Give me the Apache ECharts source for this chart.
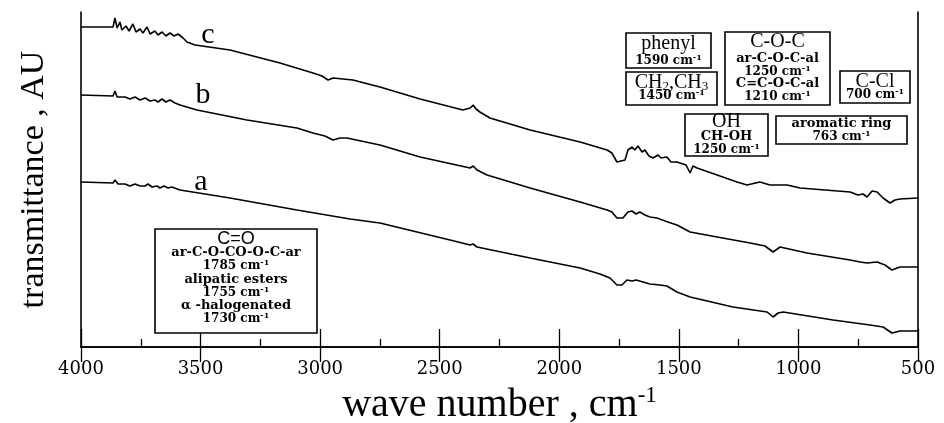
<!DOCTYPE html>
<html>
<head>
<meta charset="utf-8">
<script src="https://cdn.jsdelivr.net/npm/echarts@6/dist/echarts.min.js"></script>
<style>
  html, body { margin: 0; padding: 0; background: #fff; }
  #chart { width: 944px; height: 423px; }
</style>
</head>
<body>
<div id="chart"></div>
<script>
// IR spectra of three samples (a, b, c), transmittance in arbitrary units
const xTicks = [4000, 3500, 3000, 2500, 2000, 1500, 1000, 500];

const waveC = [4000, 3866, 3858, 3849, 3837, 3829, 3812, 3799, 3783, 3770, 3753, 3741, 3724, 3711, 3691, 3678, 3661, 3645, 3628, 3611, 3594, 3573, 3557, 3523, 3377, 3168, 3030, 2992, 2967, 2946, 2863, 2750, 2582, 2403, 2373, 2360, 2348, 2332, 2290, 2122, 1913, 1800, 1780, 1759, 1725, 1713, 1696, 1684, 1671, 1654, 1642, 1625, 1608, 1587, 1575, 1550, 1533, 1508, 1470, 1453, 1441, 1424, 1340, 1257, 1215, 1161, 1119, 1048, 993, 784, 751, 730, 713, 692, 671, 646, 617, 596, 575, 500];
const transC = [320, 320, 329, 319, 325, 317, 321, 316, 323, 315, 318, 314, 320, 313, 316, 312, 315, 311, 314, 311, 313, 309, 305, 302, 297, 284, 274, 271, 267, 269, 267, 260, 248, 237, 239, 242, 238, 235, 229, 217, 205, 197, 194, 185, 187, 197, 200, 197, 201, 195, 197, 191, 189, 192, 189, 190, 185, 185, 182, 174, 181, 179, 172, 165, 162, 165, 162, 162, 159, 155, 152, 153, 150, 156, 155, 149, 144, 147, 148, 149];

const waveB = [4000, 3866, 3858, 3849, 3816, 3795, 3774, 3753, 3732, 3711, 3691, 3678, 3661, 3645, 3628, 3607, 3586, 3515, 3306, 3097, 3030, 2980, 2946, 2917, 2888, 2750, 2582, 2373, 2360, 2344, 2302, 2122, 1913, 1800, 1780, 1759, 1734, 1713, 1696, 1679, 1663, 1642, 1621, 1592, 1546, 1508, 1453, 1340, 1202, 1140, 1106, 1077, 964, 784, 742, 713, 671, 638, 609, 575, 500];
const transB = [252, 251, 256, 250, 250, 248, 250, 247, 249, 246, 247, 245, 248, 245, 247, 244, 242, 237, 227, 219, 214, 211, 207, 209, 209, 202, 190, 179, 181, 177, 172, 159, 145, 137, 135, 129, 129, 135, 136, 133, 135, 132, 130, 129, 125, 122, 115, 110, 104, 101, 95, 100, 94, 87, 85, 84, 85, 82, 77, 80, 80];

const waveA = [4000, 3866, 3858, 3845, 3816, 3795, 3774, 3753, 3732, 3720, 3703, 3682, 3670, 3653, 3636, 3620, 3586, 3377, 3097, 2875, 2750, 2457, 2373, 2360, 2344, 2122, 1913, 1830, 1788, 1759, 1738, 1717, 1696, 1679, 1650, 1621, 1579, 1550, 1508, 1453, 1274, 1131, 1106, 1085, 1064, 855, 701, 646, 609, 575, 500];
const transA = [165, 164, 167, 163, 163, 161, 163, 161, 161, 163, 160, 161, 159, 161, 159, 160, 157, 149, 137, 128, 124, 107, 102, 103, 100, 89, 79, 73, 69, 62, 62, 67, 66, 67, 65, 63, 62, 61, 55, 50, 40, 35, 30, 34, 35, 27, 22, 20, 14, 16, 16];

const pair = (w, t) => w.map((v, i) => [v, t[i]]);

const SERIF = 'Liberation Serif';
const WIDE = 'DejaVu Serif';

const rich = {
  big: { fontFamily: SERIF, fontSize: 20, lineHeight: 20 },
  bsub: { fontFamily: SERIF, fontSize: 13, lineHeight: 20, verticalAlign: 'bottom' },
  num: { fontFamily: WIDE, fontSize: 12, fontWeight: 'bold', lineHeight: 14 },
  sup: { fontFamily: WIDE, fontSize: 8, fontWeight: 'bold', lineHeight: 14, verticalAlign: 'top' },
  word: { fontFamily: WIDE, fontSize: 13, fontWeight: 'bold', lineHeight: 14 },
  mid: { fontFamily: WIDE, fontSize: 13, fontWeight: 'bold', lineHeight: 15 },
  co: { fontFamily: 'Liberation Sans', fontSize: 18, lineHeight: 18 }
};

const cm = (n) => `{num|${n} cm}{sup|-1}`;

// annotation boxes: frame in pixels plus centred text lines
const boxes = [
  { x: 626, y: 33, w: 85, h: 35, lines: [['{big|phenyl}', 44], [cm(1590), 61]] },
  { x: 626, y: 72, w: 91, h: 33, lines: [['{big|CH}{bsub|2}{big|,CH}{bsub|3}', 83], [cm(1450), 96]] },
  { x: 725, y: 32, w: 105, h: 73, lines: [['{big|C-O-C}', 42], ['{word|ar-C-O-C-al}', 59], [cm(1250), 72], ['{word|C=C-O-C-al}', 84], [cm(1210), 97]] },
  { x: 840, y: 71, w: 70, h: 32, lines: [['{big|C-Cl}', 82], [cm(700), 95]] },
  { x: 685, y: 114, w: 83, h: 42, lines: [['{big|OH}', 122], ['{word|CH-OH}', 137], [cm(1250), 150]] },
  { x: 776, y: 116, w: 131, h: 28, lines: [['{mid|aromatic ring}', 124], [cm(763), 137]] },
  { x: 155, y: 229, w: 162, h: 104, lines: [['{co|C=O}', 239], ['{word|ar-C-O-CO-O-C-ar}', 253], [cm(1785), 266], ['{word|alipatic esters}', 280], [cm(1755), 293], ['{word|\u03b1 -halogenated}', 306], [cm(1730), 319]] }
];

const boxGraphics = boxes.map(b => ({
  type: 'group',
  x: b.x, y: b.y, z: 100,
  children: [
    { type: 'rect', z: 100, shape: { x: 0, y: 0, width: b.w, height: b.h },
      style: { fill: '#fff', stroke: '#000', lineWidth: 1.6 } }
  ].concat(b.lines.map(([t, cy]) => ({
    type: 'text', z: 101, x: b.w / 2, y: cy - b.y,
    style: { text: t, rich: rich, fill: '#000', textAlign: 'center', textVerticalAlign: 'middle' }
  })))
}));

const curveLabels = [['c', 208, 35], ['b', 203, 95], ['a', 201, 182]].map(([t, x, y]) => ({
  type: 'text', x: x, y: y, z: 100,
  style: { text: t, fill: '#000', fontFamily: SERIF, fontSize: 30, textAlign: 'center', textVerticalAlign: 'middle' }
}));

const lineStyle = { color: '#000', width: 1.6 };

const chart = echarts.init(document.getElementById('chart'), null, { renderer: 'canvas' });
chart.setOption({
  animation: false,
  backgroundColor: '#fff',
  grid: { left: 81, right: 26, top: 12, bottom: 76, containLabel: false, outerBoundsMode: 'none' },
  xAxis: [
    {
      type: 'value', min: 500, max: 4000, interval: 500, inverse: true, position: 'bottom',
      axisLine: { lineStyle: { color: '#000', width: 1.6 } },
      axisTick: { inside: true, length: 18, lineStyle: { color: '#000', width: 1.3 } },
      minorTick: { show: true, splitNumber: 2, length: 8, lineStyle: { color: '#000', width: 1.3 } },
      splitLine: { show: false },
      axisLabel: {
        margin: 13, color: '#000', fontFamily: WIDE, fontSize: 18,
        formatter: v => (xTicks.indexOf(v) >= 0 ? String(v) : '')
      },
      name: '{t|wave number , cm}{s|-1}',
      nameLocation: 'middle', nameGap: 37,
      nameTextStyle: {
        rich: {
          t: { fontFamily: SERIF, fontSize: 40, color: '#000', lineHeight: 42 },
          s: { fontFamily: SERIF, fontSize: 23, color: '#000', lineHeight: 42, verticalAlign: 'top' }
        }
      }
    },
    {
      type: 'value', min: 500, max: 4000, interval: 500, inverse: true, position: 'top',
      axisLine: { lineStyle: { color: '#000', width: 1.6 } },
      axisTick: { inside: true, length: 15, lineStyle: { color: '#000', width: 1.3 } },
      axisLabel: { show: false }, splitLine: { show: false }
    }
  ],
  yAxis: [
    {
      type: 'value', min: 0, max: 335, position: 'left',
      axisLine: { show: true, lineStyle: { color: '#000', width: 1.6 } },
      axisTick: { show: false }, axisLabel: { show: false }, splitLine: { show: false },
      name: 'transmittance , AU', nameLocation: 'middle', nameGap: 30, nameRotate: 90,
      nameTextStyle: { fontFamily: SERIF, fontSize: 34, color: '#000' }
    },
    {
      type: 'value', min: 0, max: 335, position: 'right',
      axisLine: { show: true, lineStyle: { color: '#000', width: 1.6 } },
      axisTick: { show: false }, axisLabel: { show: false }, splitLine: { show: false }
    }
  ],
  series: [
    { name: 'a', type: 'line', data: pair(waveA, transA), showSymbol: false, lineStyle: lineStyle, silent: true },
    { name: 'b', type: 'line', data: pair(waveB, transB), showSymbol: false, lineStyle: lineStyle, silent: true },
    { name: 'c', type: 'line', data: pair(waveC, transC), showSymbol: false, lineStyle: lineStyle, silent: true }
  ],
  graphic: curveLabels.concat(boxGraphics)
});
</script>
</body>
</html>
